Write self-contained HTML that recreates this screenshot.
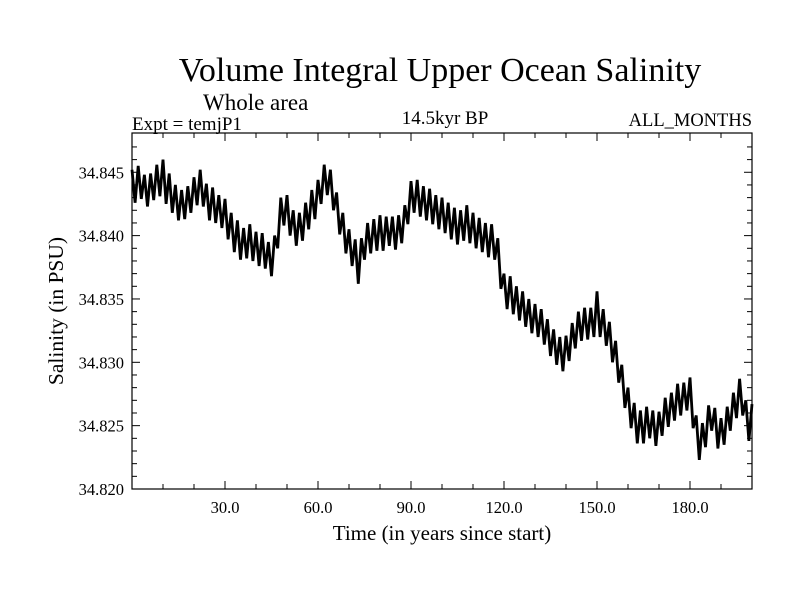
<!DOCTYPE html>
<html><head><meta charset="utf-8"><style>
html,body{margin:0;padding:0;background:#fff;}
svg{display:block;font-family:"Liberation Serif",serif;}
</style></head><body>
<svg id="chart" width="800" height="600">
<text x="440" y="81" font-size="34" text-anchor="middle">Volume Integral Upper Ocean Salinity</text>
<text x="203" y="110" font-size="23">Whole area</text>
<text x="132" y="130" font-size="19">Expt = temjP1</text>
<text x="445" y="124" font-size="19" text-anchor="middle">14.5kyr BP</text>
<text x="752" y="126" font-size="18.5" text-anchor="end">ALL_MONTHS</text>
<text x="442" y="540" font-size="21" text-anchor="middle">Time (in years since start)</text>
<text transform="translate(63,311) rotate(-90)" font-size="21.5" text-anchor="middle">Salinity (in PSU)</text>
<g id="axes"></g>
<g id="series"></g>
<rect x="132" y="133" width="620" height="356" fill="none" stroke="#000" stroke-width="1.2"/>
</svg>
<script>
const xTicks=[30,60,90,120,150,180];
const xTickLabels=["30.0","60.0","90.0","120.0","150.0","180.0"];
const yTicks=[34.820,34.825,34.830,34.835,34.840,34.845];
const yTickLabels=["34.820","34.825","34.830","34.835","34.840","34.845"];
const years0=0, yearStep=1;
const salinity=[
34.8452,34.8426,34.8455,34.8429,34.8448,34.8423,34.8449,34.8428,34.8456,34.8431,
34.8460,34.8425,34.8449,34.8418,34.8440,34.8412,34.8436,34.8413,34.8439,34.8418,
34.8446,34.8424,34.8452,34.8423,34.8441,34.8412,34.8438,34.8410,34.8432,34.8406,
34.8429,34.8397,34.8418,34.8387,34.8412,34.8381,34.8406,34.8382,34.8409,34.8380,
34.8403,34.8376,34.8402,34.8374,34.8395,34.8368,34.8400,34.8390,34.8430,34.8408,
34.8432,34.8400,34.8420,34.8392,34.8418,34.8396,34.8426,34.8405,34.8436,34.8413,
34.8444,34.8425,34.8456,34.8432,34.8452,34.8420,34.8434,34.8401,34.8418,34.8386,
34.8405,34.8376,34.8397,34.8362,34.8398,34.8381,34.8410,34.8386,34.8413,34.8388,
34.8416,34.8388,34.8415,34.8392,34.8415,34.8389,34.8416,34.8394,34.8424,34.8409,
34.8443,34.8418,34.8444,34.8415,34.8439,34.8412,34.8437,34.8409,34.8432,34.8405,
34.8430,34.8402,34.8426,34.8397,34.8422,34.8393,34.8420,34.8396,34.8424,34.8394,
34.8418,34.8390,34.8414,34.8387,34.8410,34.8383,34.8409,34.8381,34.8398,34.8358,
34.8370,34.8342,34.8368,34.8338,34.8360,34.8333,34.8356,34.8328,34.8350,34.8323,
34.8346,34.8320,34.8342,34.8314,34.8334,34.8305,34.8326,34.8298,34.8320,34.8293,
34.8321,34.8301,34.8331,34.8311,34.8340,34.8317,34.8343,34.8318,34.8343,34.8320,
34.8356,34.8320,34.8342,34.8313,34.8332,34.8300,34.8317,34.8284,34.8298,34.8264,
34.8280,34.8248,34.8268,34.8236,34.8262,34.8236,34.8265,34.8240,34.8262,34.8234,
34.8261,34.8242,34.8272,34.8249,34.8276,34.8254,34.8283,34.8258,34.8284,34.8262,
34.8288,34.8248,34.8258,34.8223,34.8252,34.8233,34.8266,34.8246,34.8264,34.8232,
34.8256,34.8235,34.8265,34.8246,34.8276,34.8256,34.8287,34.8258,34.8270,34.8238,
34.8267];
const X0=132,X1=752,Y0=489,Y1=133,xMin=0,xMax=200,yMin=34.820,yMax=34.8481;
const sx=v=>X0+(v-xMin)/(xMax-xMin)*(X1-X0);
const sy=v=>Y0-(v-yMin)/(yMax-yMin)*(Y0-Y1);
const NS="http://www.w3.org/2000/svg";
const axes=document.getElementById('axes');
function mk(tag,attrs,parent){const e=document.createElementNS(NS,tag);for(const k in attrs)e.setAttribute(k,attrs[k]);parent.appendChild(e);return e;}
for(let v=10;v<200;v+=10){
  const major=v%30===0, L=major?8:5, x=sx(v);
  const t=mk('line',{x1:x,x2:x,y1:Y0,y2:Y0-L,stroke:'#000'},axes);
  
  
  const t2=mk('line',{x1:x,x2:x,y1:Y1,y2:Y1+L,stroke:'#000'},axes);
  
  
}
xTicks.forEach((v,i)=>{
  const t=mk('text',{x:sx(v),y:Y0+24,'font-size':16.5,'text-anchor':'middle'},axes);
  t.textContent=xTickLabels[i];
  
  
});
for(let k=1;k<28;k++){
  const v=yMin+k*0.001, major=k%5===0, L=major?8:5, y=sy(v);
  const t=mk('line',{x1:X0,x2:X0+L,y1:y,y2:y,stroke:'#000'},axes);
  
  
  const t2=mk('line',{x1:X1,x2:X1-L,y1:y,y2:y,stroke:'#000'},axes);
  
  
}
yTicks.forEach((v,i)=>{
  const t=mk('text',{x:X0-8,y:sy(v)+6,'font-size':16.5,'text-anchor':'end'},axes);
  t.textContent=yTickLabels[i];
  
  
});
const pts=salinity.map((v,i)=>sx(years0+i*yearStep).toFixed(1)+','+sy(v).toFixed(1)).join(' ');
const line=mk('polyline',{points:pts,fill:'none',stroke:'#000','stroke-width':2.8,'stroke-linejoin':'miter'},document.getElementById('series'));


</script>
</body></html>
